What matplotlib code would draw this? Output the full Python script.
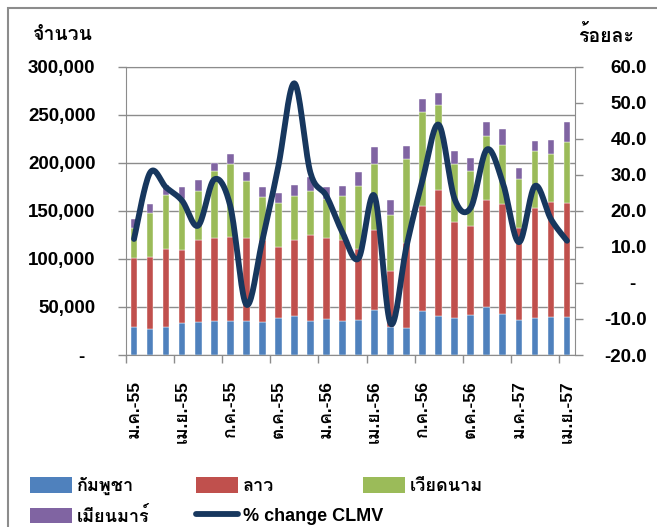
#!/usr/bin/env python3
"""
CLMV border trade chart: stacked monthly bars plus a smoothed % change line.
"""

import matplotlib
matplotlib.use("Agg")
import matplotlib.pyplot as plt
import numpy as np
from matplotlib.lines import Line2D
from matplotlib.patches import Patch, Rectangle
from matplotlib.ticker import FixedLocator, FuncFormatter

FONT = ["Liberation Sans", "Loma", "Noto Sans Thai Looped", "DejaVu Sans"]
plt.rcParams["font.family"] = FONT
plt.rcParams["font.weight"] = "bold"

# --- data (Jan 2012 .. Apr 2014) ---
months = [
    "ม.ค.-55", "ก.พ.-55", "มี.ค.-55", "เม.ย.-55", "พ.ค.-55", "มิ.ย.-55",
    "ก.ค.-55", "ส.ค.-55", "ก.ย.-55", "ต.ค.-55", "พ.ย.-55", "ธ.ค.-55",
    "ม.ค.-56", "ก.พ.-56", "มี.ค.-56", "เม.ย.-56", "พ.ค.-56", "มิ.ย.-56",
    "ก.ค.-56", "ส.ค.-56", "ก.ย.-56", "ต.ค.-56", "พ.ย.-56", "ธ.ค.-56",
    "ม.ค.-57", "ก.พ.-57", "มี.ค.-57", "เม.ย.-57",
]
cambodia = [28800, 27300, 28800, 33200, 34000, 35000, 35600, 35000, 34600, 38800,
            40200, 35000, 37000, 35000, 36500, 46700, 29400, 28400, 46000, 40800,
            38100, 41200, 49800, 42600, 36000, 38100, 39100, 39800]
laos_top = [101000, 102000, 110400, 109400, 119700, 121800, 122500, 121800, 119400, 112500,
            119700, 125300, 121500, 119400, 110000, 129800, 87500, 116600, 155000, 172000,
            138800, 134700, 161300, 156800, 132600, 153400, 159200, 158200]
vietnam_top = [132600, 148000, 166000, 162700, 171000, 191000, 199000, 180700, 164400, 158000,
               165500, 170600, 162700, 165500, 175500, 198300, 145400, 203900, 252700, 260000,
               198300, 191400, 228100, 218400, 182800, 212200, 209000, 221500]
myanmar_top = [142000, 157500, 177000, 174800, 181700, 200000, 209000, 190000, 174500, 169000,
               176900, 185200, 174800, 175500, 190000, 216700, 161000, 217700, 266900, 273000,
               212600, 205300, 242700, 235400, 194500, 223000, 223300, 242300]
pct_change = [12.2, 30.6, 26.5, 22.8, 15.9, 28.7, 21.4, -6.0, 11.7, 32.4,
              55.4, 30.6, 24.1, 14.0, 6.8, 24.1, -11.3, 10.3, 28.7, 43.9,
              23.2, 20.9, 37.0, 27.8, 11.3, 26.9, 17.7, 11.7]

left_ticks = [0, 50000, 100000, 150000, 200000, 250000, 300000]
right_ticks = [-20, -10, 0, 10, 20, 30, 40, 50, 60]

series_labels = ["กัมพูชา", "ลาว", "เวียดนาม", "เมียนมาร์", "% change CLMV"]
colors = ["#4F81BD", "#C0504D", "#9BBB59", "#8064A2"]
line_color = "#17375E"
grid_color = "#8C8C8C"


def catmull_rom(x, y, steps=20):
    # Excel-style smoothed line through the data points
    x = np.asarray(x, float)
    y = np.asarray(y, float)
    px = np.concatenate([[x[0]], x, [x[-1]]])
    py = np.concatenate([[y[0]], y, [y[-1]]])
    out_x, out_y = [], []
    t = np.linspace(0, 1, steps, endpoint=False)
    for i in range(1, len(px) - 2):
        p0, p1, p2, p3 = px[i - 1], px[i], px[i + 1], px[i + 2]
        q0, q1, q2, q3 = py[i - 1], py[i], py[i + 1], py[i + 2]
        for arr, a0, a1, a2, a3 in ((out_x, p0, p1, p2, p3), (out_y, q0, q1, q2, q3)):
            arr.extend(0.5 * ((2 * a1) + (-a0 + a2) * t
                              + (2 * a0 - 5 * a1 + 4 * a2 - a3) * t ** 2
                              + (-a0 + 3 * a1 - 3 * a2 + a3) * t ** 3))
    out_x.append(x[-1])
    out_y.append(y[-1])
    return np.array(out_x), np.array(out_y)


def main():
    n = len(months)
    x = np.arange(n)
    cam = np.array(cambodia)
    lao = np.array(laos_top) - cam
    vie = np.array(vietnam_top) - np.array(laos_top)
    mya = np.array(myanmar_top) - np.array(vietnam_top)

    fig = plt.figure(figsize=(6.57, 5.27), dpi=100)
    ax = fig.add_axes([126 / 657, 1 - 355 / 527, 449 / 657, 288.3 / 527])
    ax2 = ax.twinx()

    # outer frame (only top and left edges show)
    fig.add_artist(Rectangle((8 / 657, -0.2), 1.2, 1.2 - 8 / 527,
                             transform=fig.transFigure, fill=False,
                             edgecolor="#8C8C8C", linewidth=1.5))

    width = 0.42
    bottom = np.zeros(n)
    for vals, c in zip([cam, lao, vie, mya], colors):
        ax.bar(x, vals, width, bottom=bottom, color=c, edgecolor="white",
               linewidth=0.3, zorder=2)
        bottom = bottom + vals

    ax.set_xlim(-0.5, n - 0.5)
    ax.set_ylim(0, 300000)
    ax.set_axisbelow(True)
    ax.yaxis.grid(True, color=grid_color, linewidth=1.0)
    ax.set_yticks(left_ticks)
    ax.yaxis.set_major_formatter(FuncFormatter(
        lambda v, p: "-  " if v == 0 else f"{int(v):,}"))
    ax.tick_params(axis="y", direction="out", length=6, width=1, color=grid_color,
                   labelsize=13.5, pad=16)

    # category-boundary ticks, labels every third month
    ax.xaxis.set_major_locator(FixedLocator(np.arange(-0.5, n - 1, 3)))
    ax.xaxis.set_major_formatter(FuncFormatter(lambda v, p: ""))
    ax.xaxis.set_minor_locator(FixedLocator(x[::3]))
    ax.set_xticklabels([months[i] for i in x[::3]], minor=True, rotation=90)
    ax.tick_params(axis="x", which="major", direction="out", length=6, width=1,
                   color=grid_color)
    ax.tick_params(axis="x", which="minor", length=0, labelsize=12.5, pad=18)

    for side in ["left", "bottom", "top"]:
        ax.spines[side].set_color(grid_color)
    ax.spines["right"].set_visible(False)

    sx, sy = catmull_rom(x, pct_change)
    ax2.plot(sx, sy, color=line_color, linewidth=4.2, solid_capstyle="round", zorder=3)
    ax2.set_ylim(-20, 60)
    ax2.set_yticks(right_ticks)
    ax2.yaxis.set_major_formatter(FuncFormatter(
        lambda v, p: "-  " if v == 0 else f"{v:.1f}"))
    ax2.tick_params(axis="y", direction="out", length=6, width=1, color=grid_color,
                    labelsize=13.5, pad=46)
    for lab in ax2.get_yticklabels():
        lab.set_horizontalalignment("right")
    for side in ["left", "bottom", "top"]:
        ax2.spines[side].set_visible(False)
    ax2.spines["right"].set_color(grid_color)

    fig.text(93 / 657, 1 - 36 / 527, "จำนวน", ha="right", va="center", fontsize=14,
             fontweight="bold")
    fig.text(634 / 657, 1 - 35 / 527, "ร้อยละ", ha="right", va="center", fontsize=14,
             fontweight="bold")

    # legend as three columns
    handles = [Patch(facecolor=c) for c in colors]
    handles.append(Line2D([], [], color=line_color, linewidth=4.2, solid_capstyle="round"))
    columns = [([0, 3], 30), ([1, 4], 196), ([2], 363)]
    for idx, x0 in columns:
        fig.legend([handles[i] for i in idx], [series_labels[i] for i in idx],
                   loc="upper left", bbox_to_anchor=(x0 / 657, 1 - 477 / 527),
                   frameon=False, handlelength=2.35, handleheight=0.95,
                   handletextpad=0.25, labelspacing=0.65, borderaxespad=0, borderpad=0,
                   prop={"weight": "bold", "size": 13, "family": FONT})

    fig.savefig("out.png", dpi=100)


if __name__ == "__main__":
    main()
